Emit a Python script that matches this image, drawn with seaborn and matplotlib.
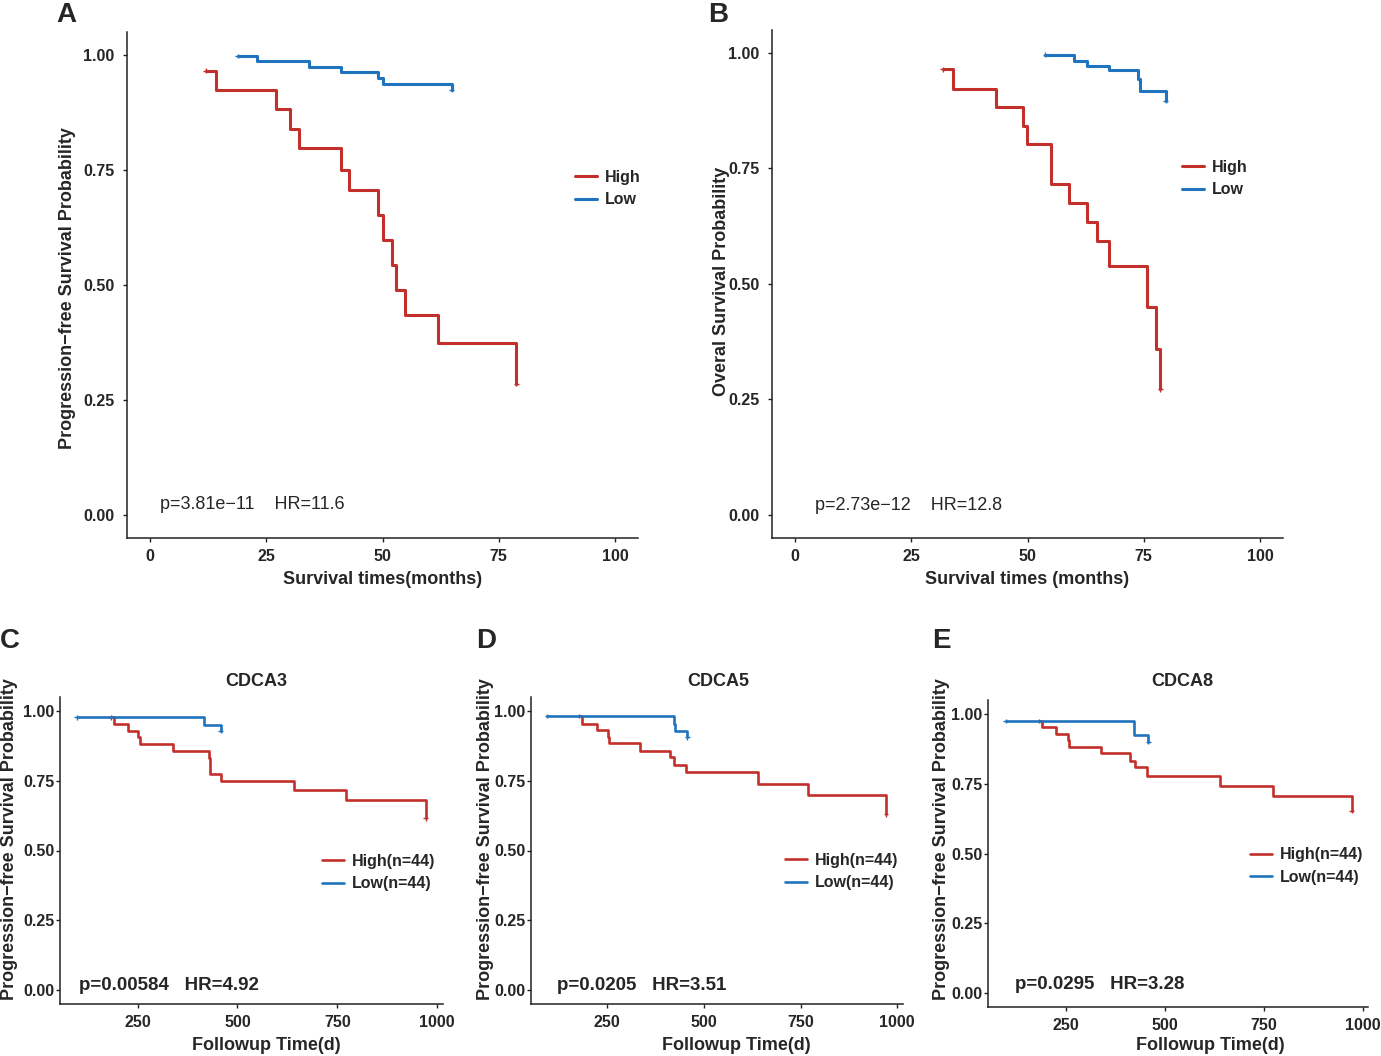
import pandas as pd
import matplotlib
matplotlib.use("Agg")
import matplotlib.pyplot as plt
import seaborn as sns

# ---- data ----
# A: progression-free survival (months)
a_high_t = [12.0, 14.2, 27.2, 30.1, 32.1, 41.0, 42.9, 49.0, 50.1, 52.0, 52.9, 54.9, 61.9, 78.8]
a_high_s = [0.966, 0.924, 0.883, 0.840, 0.798, 0.751, 0.706, 0.652, 0.597, 0.543, 0.490, 0.435, 0.375, 0.285]
a_low_t = [18.9, 23.1, 34.2, 41.0, 49.0, 50.1, 64.9]
a_low_s = [0.998, 0.986, 0.975, 0.964, 0.951, 0.938, 0.924]

# B: overall survival (months)
b_high_t = [31.8, 33.9, 43.2, 49.0, 49.8, 55.0, 58.9, 62.9, 64.9, 67.5, 75.6, 77.6, 78.6]
b_high_s = [0.964, 0.922, 0.882, 0.842, 0.802, 0.717, 0.675, 0.633, 0.592, 0.539, 0.451, 0.360, 0.272]
b_low_t = [53.8, 59.9, 62.9, 67.6, 73.7, 74.3, 79.7]
b_low_s = [0.996, 0.983, 0.972, 0.962, 0.943, 0.918, 0.896]

# C/D/E: progression-free survival by gene (days)
c_high_t = [183, 191.5, 226.5, 251.5, 256, 339, 428, 431, 458, 641.5, 772.5, 971]
c_high_s = [0.977, 0.952, 0.929, 0.908, 0.882, 0.858, 0.831, 0.775, 0.750, 0.717, 0.681, 0.615]
c_low_t = [97.5, 416, 458]
c_low_s = [0.977, 0.950, 0.929]

d_high_t = [177.6, 186, 222.6, 251, 254.4, 336, 412, 423, 453.5, 639, 770, 970.7]
d_high_s = [0.982, 0.954, 0.930, 0.906, 0.886, 0.858, 0.834, 0.808, 0.780, 0.740, 0.698, 0.630]
d_low_t = [95, 422.5, 426, 457]
d_low_s = [0.982, 0.954, 0.928, 0.906]

e_high_t = [183, 189, 225, 255, 257, 339, 412.5, 425, 456, 639, 772.5, 972.5]
e_high_s = [0.975, 0.952, 0.928, 0.907, 0.881, 0.859, 0.833, 0.809, 0.779, 0.743, 0.707, 0.653]
e_low_t = [98, 422.5, 458]
e_low_s = [0.975, 0.925, 0.901]

stats_top = ["p=3.81e\u221211    HR=11.6", "p=2.73e\u221212    HR=12.8"]
stats_bot = ["p=0.00584   HR=4.92", "p=0.0205   HR=3.51", "p=0.0295   HR=3.28"]
genes = ["CDCA3", "CDCA5", "CDCA8"]

RED = "#C3302C"
BLUE = "#1F74BD"
W, H = 1381, 1056

sns.set_style("ticks")
plt.rcParams["font.family"] = ["Liberation Sans", "DejaVu Sans"]

fig = plt.figure(figsize=(W / 100, H / 100), dpi=100)


def px_rect(l, r, t, b):
    return [l / W, 1 - b / H, (r - l) / W, (b - t) / H]


def km_panel(rect, hi_t, hi_s, lo_t, lo_s, labels, xlim, xticks, lw, tick_fs, ypad):
    ax = fig.add_axes(rect)
    df = pd.concat([
        pd.DataFrame({"time": hi_t, "surv": hi_s, "group": labels[0]}),
        pd.DataFrame({"time": lo_t, "surv": lo_s, "group": labels[1]}),
    ])
    sns.lineplot(data=df, x="time", y="surv", hue="group", palette=[RED, BLUE],
                 estimator=None, sort=False, drawstyle="steps-post", lw=lw, ax=ax)
    # censor ticks at the first and last observation of each group
    ends = pd.concat([df.groupby("group").head(1), df.groupby("group").tail(1)])
    sns.scatterplot(data=ends, x="time", y="surv", hue="group", palette=[RED, BLUE],
                    marker="+", s=12, linewidth=1.0, legend=False, ax=ax)
    ax.set_xlim(*xlim)
    ax.set_ylim(-0.05, 1.05)
    ax.set_xticks(xticks)
    ax.set_yticks([0, 0.25, 0.5, 0.75, 1.0])
    ax.set_yticklabels(["0.00", "0.25", "0.50", "0.75", "1.00"])
    ax.set_xlabel("")
    ax.set_ylabel("")
    for s in ["top", "right"]:
        ax.spines[s].set_visible(False)
    for s in ["left", "bottom"]:
        ax.spines[s].set_linewidth(1.1)
        ax.spines[s].set_color("#222222")
    ax.tick_params(axis="both", length=3, width=1, color="#222222", labelsize=tick_fs)
    ax.tick_params(axis="y", pad=ypad)
    ax.tick_params(axis="x", pad=5)
    for lab in ax.get_xticklabels() + ax.get_yticklabels():
        lab.set_fontweight("bold")
    return ax


def place_legend(ax, x, y, fs, spacing):
    h, l = ax.get_legend_handles_labels()
    ax.legend(h, l, loc="center left", bbox_to_anchor=(x / W, 1 - y / H),
              bbox_transform=fig.transFigure, frameon=False, borderpad=0,
              borderaxespad=0, handlelength=1.4, handletextpad=0.5,
              labelspacing=spacing, prop={"weight": "bold", "size": fs})


# ---- A ----
axA = km_panel(px_rect(126.7, 638.3, 32, 538), a_high_t, a_high_s, a_low_t, a_low_s,
               ["High", "Low"], (-5, 105), [0, 25, 50, 75, 100], 2.2, 11.5, 6)
place_legend(axA, 575, 188.5, 11.5, 0.45)
axA.text(2.1, 0.022, stats_top[0], fontsize=13, ha="left", va="center")
fig.text(68 / W, 1 - 288.5 / H, "Progression\u2212free Survival Probability", rotation=90,
         ha="center", va="center", fontsize=13, fontweight="bold")
fig.text(383 / W, 1 - 580 / H, "Survival times(months)", ha="center", va="center",
         fontsize=13, fontweight="bold")
fig.text(66 / W, 1 - 15 / H, "A", ha="center", va="center", fontsize=20, fontweight="bold")

# ---- B ----
axB = km_panel(px_rect(771.75, 1283.25, 29.6, 538.1), b_high_t, b_high_s, b_low_t, b_low_s,
               ["High", "Low"], (-5, 105), [0, 25, 50, 75, 100], 2.2, 11.5, 6)
place_legend(axB, 1182, 178.5, 11.5, 0.45)
axB.text(4.3, 0.02, stats_top[1], fontsize=13, ha="left", va="center")
fig.text(721 / W, 1 - 281.5 / H, "Overal Survival Probability", rotation=90,
         ha="center", va="center", fontsize=13, fontweight="bold")
fig.text(1027 / W, 1 - 580 / H, "Survival times (months)", ha="center", va="center",
         fontsize=13, fontweight="bold")
fig.text(718 / W, 1 - 15 / H, "B", ha="center", va="center", fontsize=20, fontweight="bold")

# ---- C, D, E ----
bottom = [
    ("C", px_rect(60, 442.7, 697, 1004), (56, 1013.5), c_high_t, c_high_s, c_low_t, c_low_s,
     (322, 872.5), (103, 0.018), 10, 266, 256, 10),
    ("D", px_rect(531, 902.7, 697, 1004), (53, 1014), d_high_t, d_high_s, d_low_t, d_low_s,
     (785, 871.5), (120, 0.018), 485, 736, 718, 486),
    ("E", px_rect(987.7, 1367.5, 700, 1007.3), (52.5, 1012), e_high_t, e_high_s, e_low_t, e_low_s,
     (1250, 866), (121, 0.033), 941, 1210, 1182, 941),
]
for i, (tag, rect, xl, ht, hs, lt, ls, leg, ptxt, ylab_x, xlab_x, title_x, tag_x) in enumerate(bottom):
    ax = km_panel(rect, ht, hs, lt, ls, ["High(n=44)", "Low(n=44)"], xl,
                  [250, 500, 750, 1000], 1.9, 11.5, 1)
    place_legend(ax, leg[0], leg[1], 11.5, 0.45)
    ax.text(ptxt[0], ptxt[1], stats_bot[i], fontsize=13.5, fontweight="bold",
            ha="left", va="center")
    fig.text(ylab_x / W, 1 - 839 / H, "Progression\u2212free Survival Probability", rotation=90,
             ha="center", va="center", fontsize=13, fontweight="bold")
    fig.text(xlab_x / W, 1 - 1045 / H, "Followup Time(d)", ha="center", va="center",
             fontsize=13, fontweight="bold")
    fig.text(title_x / W, 1 - 681 / H, genes[i], ha="center", va="center",
             fontsize=13, fontweight="bold")
    fig.text(tag_x / W, 1 - 641 / H, tag, ha="center", va="center", fontsize=20, fontweight="bold")

fig.savefig("out.png", dpi=100)
